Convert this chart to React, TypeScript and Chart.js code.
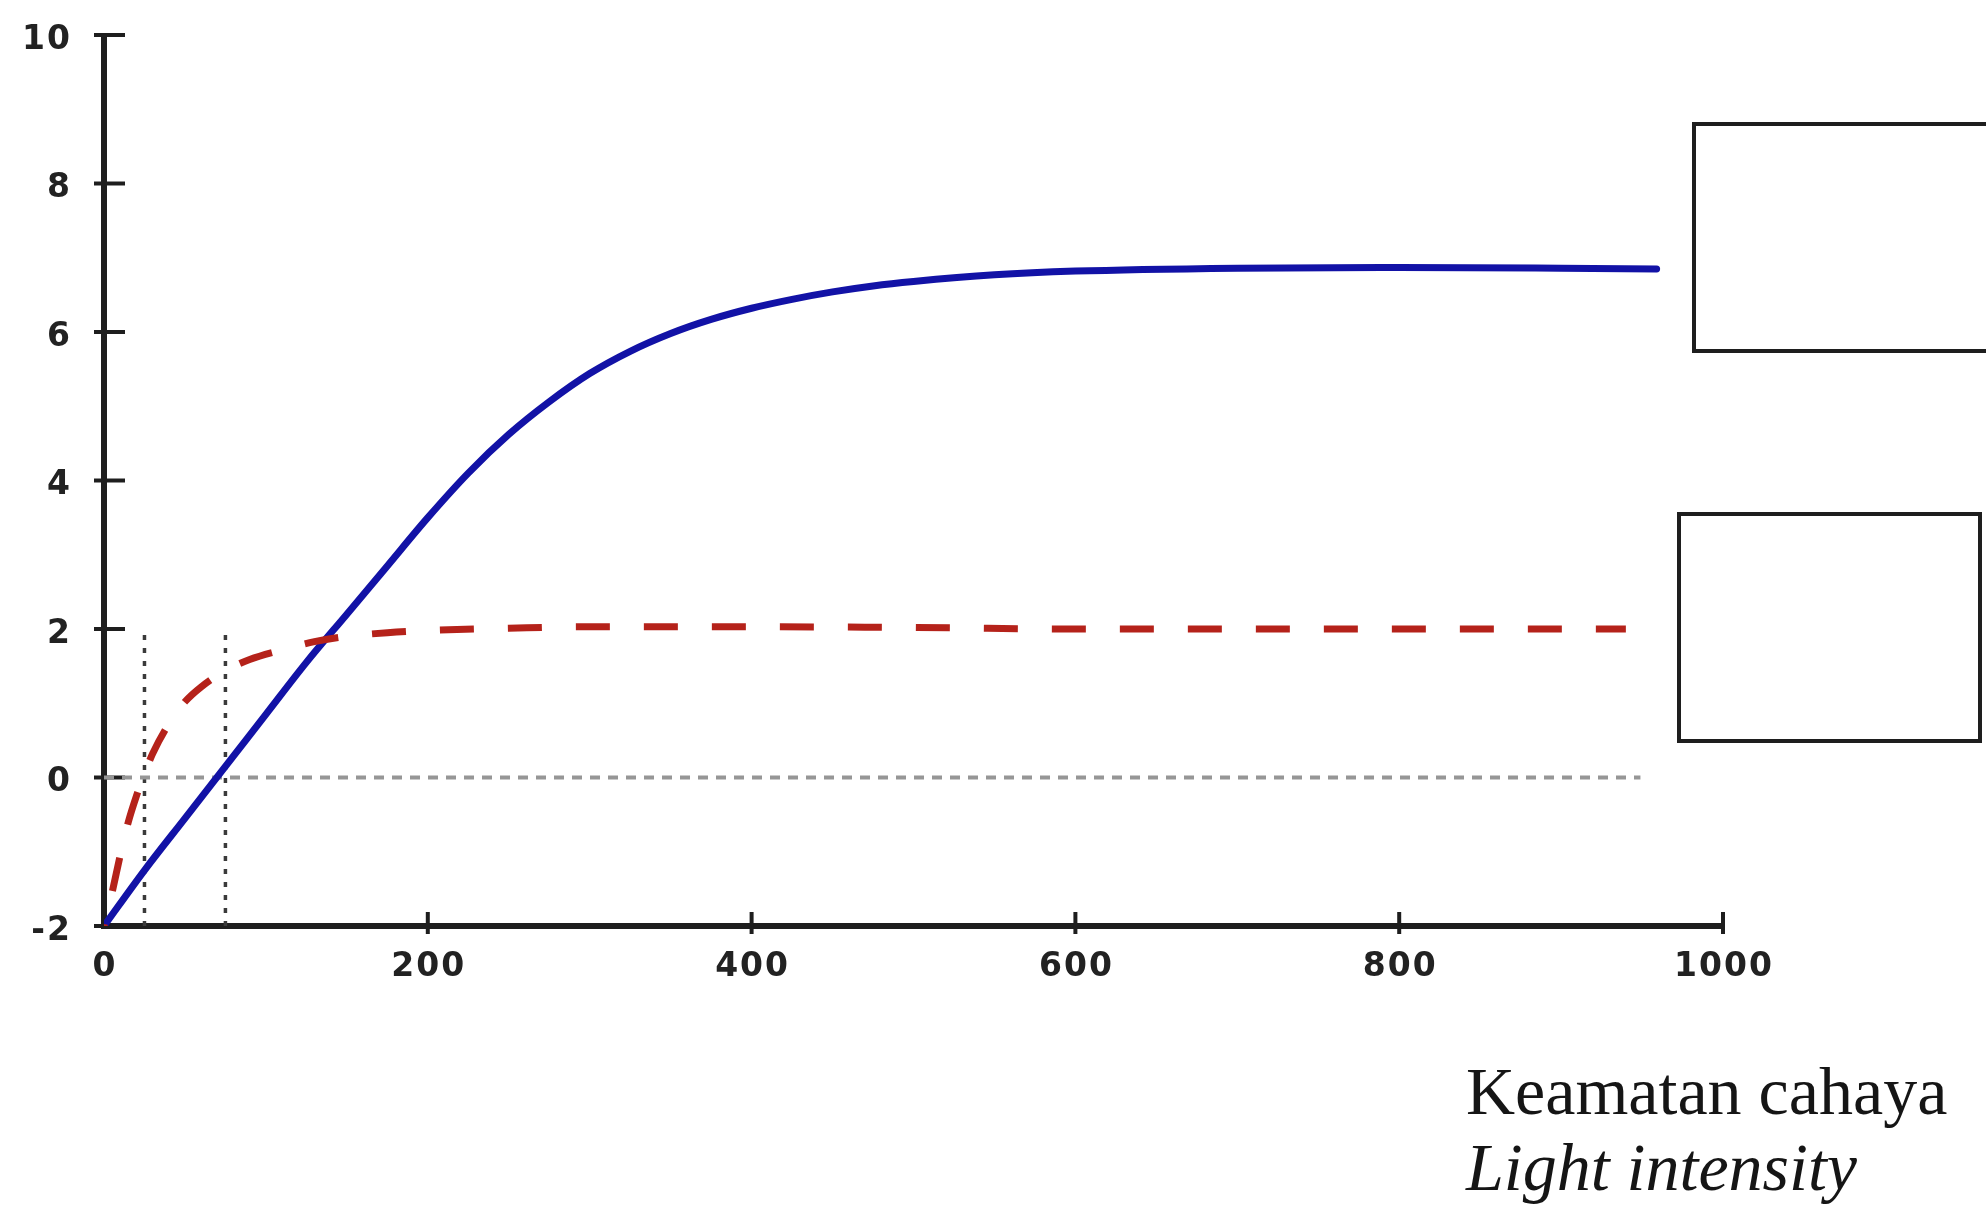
import React, { useEffect, useRef } from "react";
import { Chart, registerables } from "chart.js";

Chart.register(...registerables);

// ---- data ----
const blueX = [0, 25, 50, 75, 100, 125, 150, 175, 200, 225, 250, 275, 300, 325, 350, 375, 400, 425, 450, 475, 500, 550, 600, 700, 800, 900, 959];
const blueY = [-2, -1.25, -0.55, 0.15, 0.85, 1.55, 2.2, 2.85, 3.5, 4.1, 4.62, 5.06, 5.44, 5.74, 5.98, 6.17, 6.32, 6.44, 6.54, 6.62, 6.68, 6.77, 6.82, 6.86, 6.87, 6.86, 6.85];

const redX = [0, 5, 10, 15, 20, 25, 30, 40, 50, 60, 75, 90, 110, 130, 150, 175, 200, 250, 300, 400, 500, 600, 700, 800, 940];
const redY = [-2, -1.55, -1.05, -0.6, -0.25, 0.05, 0.32, 0.72, 1.02, 1.22, 1.44, 1.59, 1.72, 1.83, 1.9, 1.95, 1.98, 2.01, 2.03, 2.03, 2.02, 2.0, 2.0, 2.0, 2.0];

const zeroLineX = [0, 949];
const zeroLineY = [0, 0];

const guideA_X = [25, 25];
const guideB_X = [75, 75];
const guideY = [-2, 2];

const xTickValues = [0, 200, 400, 600, 800, 1000];
const xTickLabels = ["0", "200", "400", "600", "800", "1000"];
const yTickValues = [-2, 0, 2, 4, 6, 8, 10];
const yTickLabels = ["-2", "0", "2", "4", "6", "8", "10"];

const labelLine1 = "Keamatan cahaya";
const labelLine2 = "Light intensity";

const toPts = (xs: number[], ys: number[]) => xs.map((x, i) => ({ x, y: ys[i] }));

const W = 1986;
const H = 1206;

const spacingPlugin = {
  id: "tickSpacing",
  beforeDraw(chart: any) {
    try {
      (chart.ctx as any).letterSpacing = "2px";
    } catch (e) {}
  },
  afterDraw(chart: any) {
    try {
      (chart.ctx as any).letterSpacing = "0px";
    } catch (e) {}
  },
};

const axesPlugin = {
  id: "customAxes",
  beforeDatasetsDraw(chart: any) {
    const { ctx } = chart;
    const x = chart.scales.x;
    const y = chart.scales.y;
    const x0 = x.getPixelForValue(0);
    const x1 = x.getPixelForValue(1000);
    const yb = y.getPixelForValue(-2);
    const yt = y.getPixelForValue(10);
    ctx.save();
    ctx.strokeStyle = "#1e1e1e";
    ctx.lineCap = "butt";
    ctx.lineWidth = 6;
    ctx.beginPath();
    ctx.moveTo(x0, yt - 1.5);
    ctx.lineTo(x0, yb + 3);
    ctx.stroke();
    ctx.beginPath();
    ctx.moveTo(x0 - 3, yb);
    ctx.lineTo(x1, yb);
    ctx.stroke();
    ctx.lineWidth = 4;
    yTickValues.forEach((v) => {
      const py = y.getPixelForValue(v);
      ctx.beginPath();
      ctx.moveTo(x0 - 10, py);
      ctx.lineTo(x0 + 21, py);
      ctx.stroke();
    });
    xTickValues.forEach((v) => {
      if (v === 0) return;
      const px = x.getPixelForValue(v);
      ctx.beginPath();
      ctx.moveTo(px, yb - 14);
      ctx.lineTo(px, yb + 8);
      ctx.stroke();
    });
    ctx.restore();
  },
};

export default function App() {
  const canvasRef = useRef<HTMLCanvasElement | null>(null);

  useEffect(() => {
    if (!canvasRef.current) return;
    const tickFont = { family: "'DejaVu Sans'", size: 33, weight: "bold" as const };
    const chart = new Chart(canvasRef.current, {
      type: "line",
      data: {
        datasets: [
          {
            label: "red",
            data: toPts(redX, redY),
            borderColor: "#b5221a",
            borderWidth: 7,
            borderDash: [34, 34],
            borderDashOffset: 32,
            borderCapStyle: "butt",
            pointRadius: 0,
            cubicInterpolationMode: "monotone",
            fill: false,
          },
          {
            label: "blue",
            data: toPts(blueX, blueY),
            borderColor: "#1212a6",
            borderWidth: 7,
            borderCapStyle: "round",
            pointRadius: 0,
            cubicInterpolationMode: "monotone",
            fill: false,
          },
          {
            label: "zero",
            data: toPts(zeroLineX, zeroLineY),
            borderColor: "#969696",
            borderWidth: 4,
            borderDash: [10, 8],
            pointRadius: 0,
            fill: false,
          },
          {
            label: "guideA",
            data: toPts(guideA_X, guideY),
            borderColor: "#3a3a3a",
            borderWidth: 3.5,
            borderDash: [5, 8],
            pointRadius: 0,
            fill: false,
          },
          {
            label: "guideB",
            data: toPts(guideB_X, guideY),
            borderColor: "#3a3a3a",
            borderWidth: 3.5,
            borderDash: [5, 8],
            pointRadius: 0,
            fill: false,
          },
        ],
      },
      options: {
        responsive: false,
        animation: false,
        devicePixelRatio: 1,
        layout: { padding: { top: 35, right: W - 1723, bottom: 0, left: 0 } },
        plugins: { legend: { display: false }, tooltip: { enabled: false } },
        scales: {
          x: {
            type: "linear",
            min: 0,
            max: 1000,
            afterFit: (s: any) => {
              s.height = H - 926;
              s.paddingLeft = 0;
              s.paddingRight = 0;
            },
            afterBuildTicks: (s: any) => {
              s.ticks = xTickValues.map((v) => ({ value: v }));
            },
            grid: { display: false },
            border: { display: false },
            ticks: {
              color: "#222",
              font: tickFont,
              padding: 14,
              labelOffset: 1,
              maxRotation: 0,
              autoSkip: false,
              callback: (v: any) => xTickLabels[xTickValues.indexOf(Number(v))] ?? "",
            },
          },
          y: {
            type: "linear",
            min: -2,
            max: 10,
            afterFit: (s: any) => {
              s.width = 104;
              s.paddingTop = 0;
              s.paddingBottom = 0;
            },
            afterBuildTicks: (s: any) => {
              s.ticks = yTickValues.map((v) => ({ value: v }));
            },
            grid: { display: false },
            border: { display: false },
            ticks: {
              color: "#222",
              font: tickFont,
              padding: 24,
              labelOffset: 5,
              autoSkip: false,
              callback: (v: any) => yTickLabels[yTickValues.indexOf(Number(v))] ?? "",
            },
          },
        },
      },
      plugins: [spacingPlugin, axesPlugin],
    });
    return () => chart.destroy();
  }, []);

  const boxStyle = (left: number, top: number, width: number, height: number): React.CSSProperties => ({
    position: "absolute",
    left,
    top,
    width,
    height,
    border: "4px solid #1e1e1e",
    boxSizing: "border-box",
    background: "transparent",
  });

  const textStyle = (top: number, italic: boolean): React.CSSProperties => ({
    position: "absolute",
    left: 1466,
    top,
    margin: 0,
    fontFamily: "'Liberation Serif', 'Times New Roman', serif",
    fontSize: 68,
    lineHeight: "68px",
    fontStyle: italic ? "italic" : "normal",
    color: "#151515",
    whiteSpace: "nowrap",
  });

  return (
    <div style={{ position: "absolute", left: 0, top: 0, width: W, height: H, overflow: "hidden", background: "#fff" }}>
      <canvas ref={canvasRef} width={W} height={H} style={{ position: "absolute", left: 0, top: 0, width: W, height: H }} />
      <div style={boxStyle(1692, 122, 320, 231)} />
      <div style={boxStyle(1677, 512, 305, 231)} />
      <div style={textStyle(1057, false)}>{labelLine1}</div>
      <div style={textStyle(1133, true)}>{labelLine2}</div>
    </div>
  );
}
